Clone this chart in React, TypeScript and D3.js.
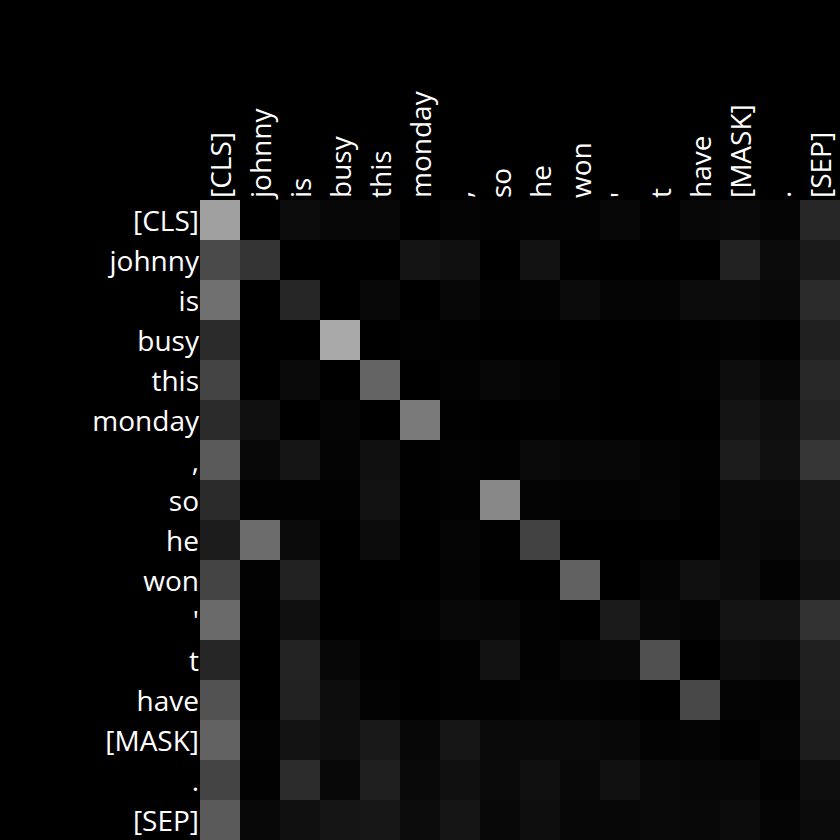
import React, { useRef, useEffect } from "react";
import * as d3 from "d3";

const tokens = ["[CLS]", "johnny", "is", "busy", "this", "monday", ",", "so", "he", "won", "'", "t", "have", "[MASK]", ".", "[SEP]"];

// attention weights, row = query token, column = key token
const attention = [
  [0.627, 0, 0.047, 0.027, 0.027, 0, 0.016, 0.008, 0.012, 0.012, 0.027, 0.004, 0.024, 0.035, 0.020, 0.153],
  [0.290, 0.200, 0, 0, 0, 0.078, 0.063, 0, 0.071, 0.004, 0, 0, 0, 0.133, 0.043, 0.102],
  [0.439, 0, 0.149, 0, 0.031, 0, 0.024, 0.008, 0.012, 0.043, 0.020, 0.020, 0.047, 0.047, 0.035, 0.169],
  [0.165, 0, 0, 0.659, 0, 0.008, 0.004, 0, 0, 0, 0, 0, 0.004, 0.012, 0.004, 0.125],
  [0.267, 0, 0.039, 0, 0.392, 0, 0.012, 0.024, 0.020, 0.004, 0, 0, 0.008, 0.051, 0.024, 0.157],
  [0.165, 0.063, 0, 0.020, 0, 0.478, 0.004, 0, 0.004, 0.004, 0, 0, 0, 0.078, 0.055, 0.137],
  [0.353, 0.031, 0.082, 0.016, 0.063, 0.004, 0.012, 0.008, 0.039, 0.024, 0.027, 0.016, 0.008, 0.110, 0.059, 0.212],
  [0.165, 0.008, 0.008, 0.008, 0.071, 0.004, 0.008, 0.533, 0.016, 0.012, 0.012, 0.020, 0.004, 0.043, 0.043, 0.090],
  [0.110, 0.424, 0.043, 0, 0.047, 0, 0.020, 0.004, 0.259, 0, 0, 0, 0, 0.043, 0.031, 0.086],
  [0.267, 0.008, 0.129, 0, 0, 0, 0.016, 0, 0, 0.376, 0, 0.020, 0.063, 0.047, 0.012, 0.067],
  [0.416, 0.004, 0.059, 0, 0, 0.012, 0.031, 0.027, 0.008, 0, 0.106, 0.027, 0.020, 0.078, 0.078, 0.196],
  [0.149, 0, 0.137, 0.024, 0.004, 0, 0.008, 0.071, 0.008, 0.024, 0.031, 0.314, 0, 0.051, 0.043, 0.125],
  [0.322, 0, 0.133, 0.051, 0.012, 0, 0.008, 0.008, 0.016, 0.012, 0.008, 0, 0.282, 0.016, 0.012, 0.122],
  [0.384, 0.012, 0.075, 0.055, 0.094, 0.024, 0.086, 0.039, 0.039, 0.039, 0.031, 0.012, 0.016, 0.004, 0.020, 0.114],
  [0.267, 0.008, 0.173, 0.031, 0.122, 0.035, 0.063, 0.039, 0.063, 0.031, 0.067, 0.035, 0.024, 0.024, 0.008, 0.055],
  [0.353, 0.031, 0.063, 0.082, 0.090, 0.047, 0.082, 0.031, 0.055, 0.027, 0.027, 0.035, 0.031, 0.047, 0.020, 0.043],
];

const App = () => {
  const ref = useRef(null);
  const width = 840;
  const height = 840;

  useEffect(() => {
    document.body.style.margin = "0";
    document.body.style.background = "#000";

    const svg = d3.select(ref.current);
    svg.selectAll("*").remove();

    const margin = { top: 200, left: 200 };
    const x = d3.scaleBand().domain(d3.range(tokens.length)).range([margin.left, width]);
    const y = d3.scaleBand().domain(d3.range(tokens.length)).range([margin.top, height]);
    const color = d3.scaleLinear().domain([0, 1]).range(["#000000", "#ffffff"]);

    svg.append("rect").attr("width", width).attr("height", height).attr("fill", "#000");

    const cells = attention.flatMap((row, i) => row.map((v, j) => ({ i, j, v })));

    svg
      .append("g")
      .selectAll("rect")
      .data(cells)
      .enter()
      .append("rect")
      .attr("x", (d) => x(d.j))
      .attr("y", (d) => y(d.i))
      .attr("width", x.bandwidth())
      .attr("height", y.bandwidth())
      .attr("fill", (d) => color(d.v));

    const font = "'Open Sans', 'Noto Sans', sans-serif";

    // row labels
    svg
      .append("g")
      .selectAll("text")
      .data(tokens)
      .enter()
      .append("text")
      .attr("x", margin.left - 1)
      .attr("y", (d, i) => y(i) + y.bandwidth() / 2)
      .attr("text-anchor", "end")
      .attr("dominant-baseline", "central")
      .attr("fill", "#fff")
      .style("font-family", font)
      .style("font-size", "28px")
      .text((d) => d);

    // column labels
    svg
      .append("g")
      .selectAll("text")
      .data(tokens)
      .enter()
      .append("text")
      .attr("transform", (d, i) => `translate(${x(i) + x.bandwidth() / 2}, ${margin.top - 2}) rotate(-90)`)
      .attr("text-anchor", "start")
      .attr("dominant-baseline", "central")
      .attr("fill", "#fff")
      .style("font-family", font)
      .style("font-size", "28px")
      .text((d) => d);
  }, []);

  return <svg ref={ref} width={width} height={height} style={{ display: "block" }} />;
};

export default App;
